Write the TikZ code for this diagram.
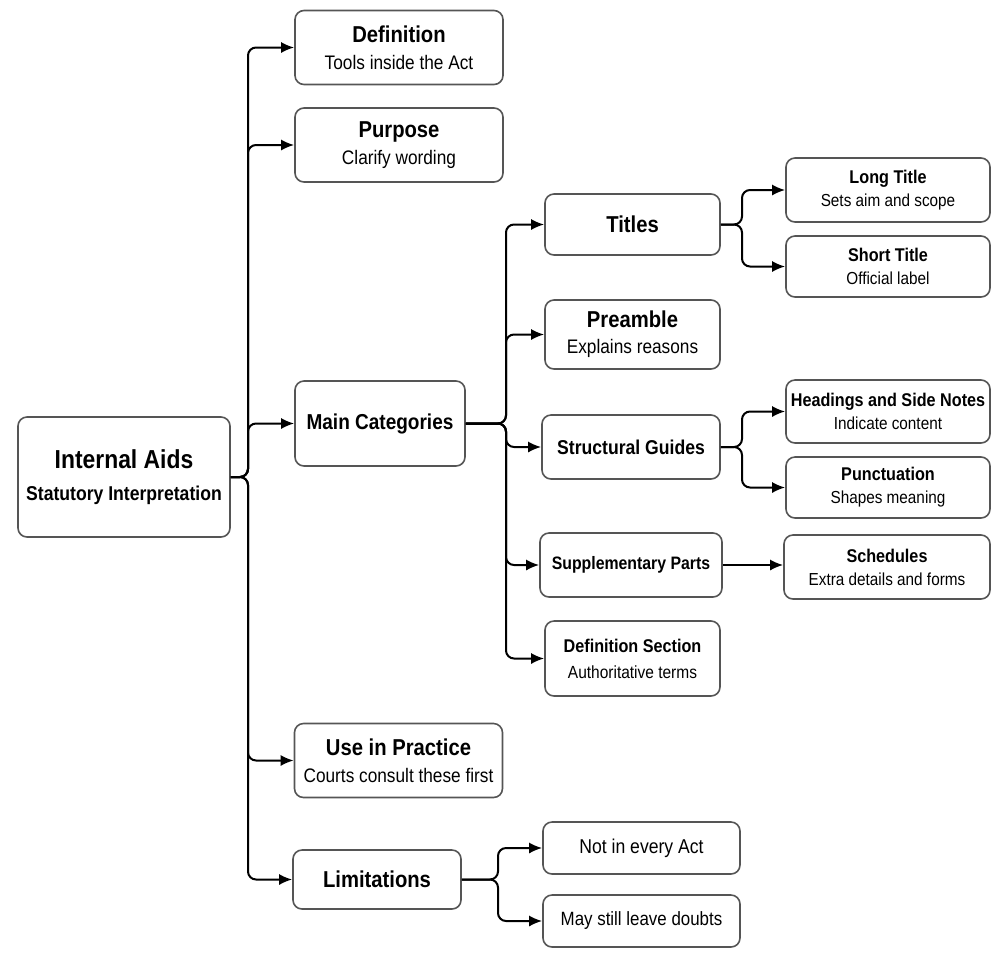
\documentclass[tikz,border=0pt]{standalone}
\usepackage{fontspec}
\setmainfont{Liberation Sans}[FakeStretch=0.88]
\usetikzlibrary{arrows.meta}

\definecolor{boxline}{HTML}{555555}
\newcommand{\tbig}{\fontsize{11.5pt}{14pt}\selectfont\bfseries}
\newcommand{\tsub}{\fontsize{9.8pt}{12pt}\selectfont}
\newcommand{\tsm}{\fontsize{9.2pt}{12pt}\selectfont\bfseries}
\newcommand{\tsmsub}{\fontsize{8.7pt}{11pt}\selectfont}

\begin{document}
\begin{tikzpicture}[x=0.5pt,y=-0.5pt,
  box/.style={draw=boxline,line width=0.8pt,rounded corners=4.5pt,align=center,inner sep=0pt},
  wide/.style={box,minimum width=104pt,minimum height=37pt,font=\fontsize{10pt}{13.5pt}\selectfont},
  mid/.style={box,minimum width=87.5pt,minimum height=32pt,font=\fontsize{10pt}{13pt}\selectfont},
  leaf/.style={box,minimum width=102pt,minimum height=31.5pt,font=\fontsize{9pt}{11.5pt}\selectfont},
  tie/.style={line width=1pt,rounded corners=4pt},
  link/.style={tie,-{Latex[length=6.5pt,width=5.5pt]}}]
\useasboundingbox (0,0) rectangle (1007,966);

% root
\node[box,minimum width=106pt,minimum height=60pt,font=\fontsize{10pt}{16pt}\selectfont] (root) at (124,477)
  {{\fontsize{13pt}{15pt}\selectfont\bfseries Internal Aids}\\{\fontsize{10pt}{12pt}\selectfont\bfseries Statutory Interpretation}};

% first level
\node[wide] (defn) at (399,47.5) {{\tbig Definition}\\{\tsub Tools inside the Act}};
\node[wide] (purp) at (399,145) {{\tbig Purpose}\\{\tsub Clarify wording}};
\node[box,minimum width=85pt,minimum height=42.5pt] (main) at (380,423.5) {{\fontsize{10.8pt}{13pt}\selectfont\bfseries Main Categories}};
\node[wide] (use) at (398.5,760.5) {{\tbig Use in Practice}\\{\tsub Courts consult these first}};
\node[box,minimum width=84pt,minimum height=29.5pt] (lim) at (377,879.5) {{\tbig Limitations}};

% categories
\node[mid,minimum height=30.5pt] (titles) at (632.5,224.5) {{\tbig Titles}};
\node[mid,minimum height=34.5pt] (pre) at (632.5,334.5) {{\tbig Preamble}\\{\tsub Explains reasons}};
\node[mid,minimum width=89pt] (struct) at (631,447) {{\fontsize{10pt}{12pt}\selectfont\bfseries Structural Guides}};
\node[mid,minimum width=91pt] (supp) at (631,565) {{\fontsize{9pt}{12pt}\selectfont\bfseries Supplementary Parts}};
\node[mid,minimum height=37.5pt] (dsec) at (632.5,658.5) {{\fontsize{9.2pt}{12pt}\selectfont\bfseries Definition Section}\\{\fontsize{8.8pt}{11pt}\selectfont Authoritative terms}};

% details
\node[leaf,minimum height=32pt] (long) at (888,190) {{\tsm Long Title}\\{\tsmsub Sets aim and scope}};
\node[leaf,minimum height=30.5pt] (short) at (888,266.5) {{\tsm Short Title}\\{\tsmsub Official label}};
\node[leaf] (head) at (888,411.5) {{\tsm Headings and Side Notes}\\{\tsmsub Indicate content}};
\node[leaf,minimum height=30.5pt] (punc) at (888,487.5) {{\tsm Punctuation}\\{\tsmsub Shapes meaning}};
\node[leaf,minimum width=103pt,minimum height=32pt] (sched) at (887,567) {{\tsm Schedules}\\{\tsmsub Extra details and forms}};

% limits
\node[box,minimum width=98.5pt,minimum height=26pt] (nact) at (641.5,848) {{\fontsize{10pt}{12pt}\selectfont Not in every Act}};
\node[box,minimum width=98.5pt,minimum height=26pt] (doubt) at (641.5,921) {{\fontsize{9.6pt}{12pt}\selectfont May still leave doubts}};

% connectors
\coordinate (j1) at (248,477);
\coordinate (j2) at (506,423.5);
\coordinate (j3) at (742,224.5);
\coordinate (j4) at (742,447);
\coordinate (j5) at (498,879.5);
\foreach \n in {defn,purp,main,use,lim}
  \draw[link] (root.east) -- (j1) |- (\n.west);
\foreach \n in {titles,pre,struct,supp,dsec}
  \draw[link] (main.east) -- (j2) |- (\n.west);
\foreach \n in {long,short}
  \draw[link] (titles.east) -- (j3) |- (\n.west);
\foreach \n in {head,punc}
  \draw[link] (struct.east) -- (j4) |- (\n.west);
\draw[link] (supp.east) -- (sched.west |- supp.east);
\foreach \n in {nact,doubt}
  \draw[link] (lim.east) -- (j5) |- (\n.west);
\end{tikzpicture}
\end{document}
